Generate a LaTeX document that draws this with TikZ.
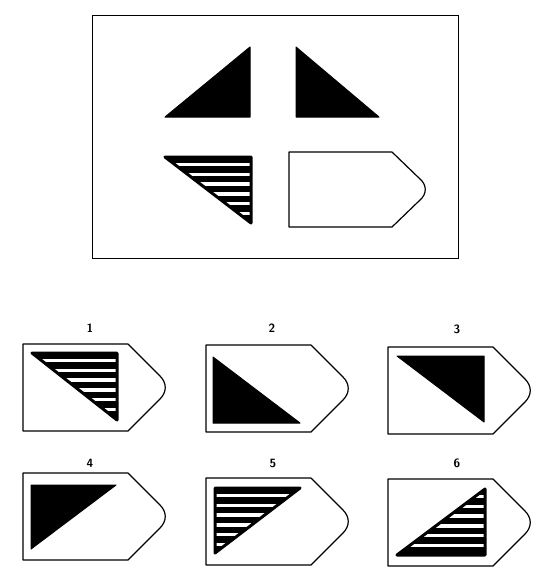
\documentclass[tikz,border=0pt]{standalone}

% striped triangle: corners #1 #2 #3, top edge at y=#4
\newcommand\stripetri[4]{%
  \begin{scope}
    \clip #1 -- #2 -- #3 -- cycle;
    \fill #1 -- #2 -- #3 -- cycle;
    \foreach \i in {0,...,7}
      \draw[stripe] (0,{#4+7.5+9.8*\i}) -- (548,{#4+7.5+9.8*\i});
  \end{scope}
  \draw[rim] #1 -- #2 -- #3 -- cycle;}

\begin{document}
\begin{tikzpicture}%
  [x=1pt,y=-1pt,
   frame/.style={draw,line width=0.9pt},
   outline/.style={draw,line width=1.2pt,line join=round},
   blacktri/.style={fill=black,draw=black,line width=1pt,line join=round},
   stripe/.style={white,line width=3.4pt},
   rim/.style={draw=black,line width=3pt,line join=round},
   num/.style={font=\fontsize{12}{13}\selectfont\sffamily\bfseries},
   boat/.pic={\draw[outline] (0,0) -- (105,0) -- (137,32)
     .. controls (144,39) and (144,48) .. (137,55) -- (105,87) -- (0,87) -- cycle;}
  ]
  \useasboundingbox (0,0) rectangle (548,570);

  % question panel
  \draw[frame] (92,15) rectangle (458,258);
  \filldraw[blacktri] (165,117) -- (250,47) -- (250,117) -- cycle;
  \filldraw[blacktri] (296,47) -- (296,117) -- (379,117) -- cycle;
  \stripetri{(165,157)}{(251,157)}{(251,223)}{157}
  \begin{scope}[shift={(289,152)}]
    \draw[outline] (0,0) -- (103,0) -- (131,27)
      .. controls (138,33) and (138,42) .. (131,48) -- (103,75) -- (0,75) -- cycle;
  \end{scope}

  % answers
  \node[num] (n1) at (90,328) {1};
  \node[num] (n2) at (272,328) {2};
  \node[num] (n3) at (457,329) {3};
  \node[num] (n4) at (90,463) {4};
  \node[num] (n5) at (273,463) {5};
  \node[num] (n6) at (457,463) {6};

  \pic (b1) at (23,344) {boat};
  \stripetri{(32,353)}{(117,353)}{(117,420)}{353}

  \pic (b2) at (206,345) {boat};
  \filldraw[blacktri] (213,357) -- (213,423) -- (300,423) -- cycle;

  \pic (b3) at (388,347) {boat};
  \filldraw[blacktri] (397,356) -- (484,356) -- (484,422) -- cycle;

  \pic (b4) at (23,473) {boat};
  \filldraw[blacktri] (31,485) -- (116,485) -- (31,549) -- cycle;

  \pic (b5) at (206,478) {boat};
  \stripetri{(215,488)}{(300,488)}{(215,553)}{488}

  \pic (b6) at (388,479) {boat};
  \stripetri{(485,489)}{(485,555)}{(397,555)}{489}
\end{tikzpicture}
\end{document}
